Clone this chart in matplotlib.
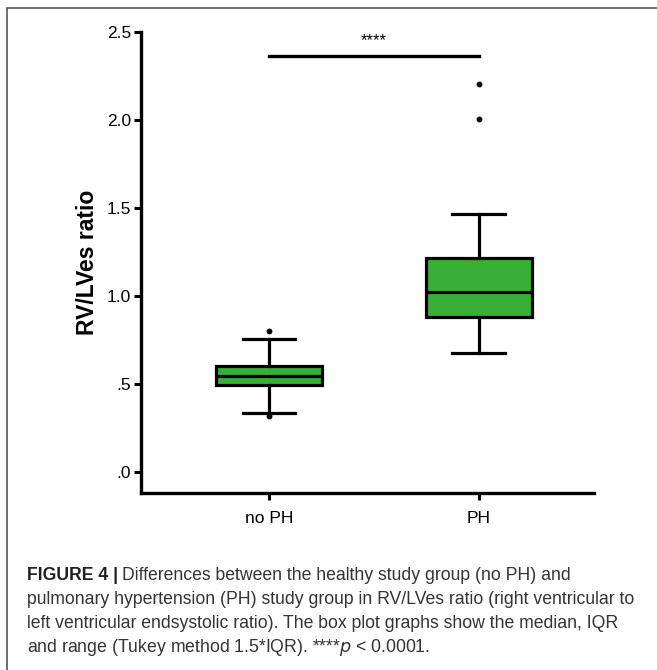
import matplotlib
matplotlib.use("Agg")
import matplotlib.pyplot as plt
from matplotlib.patches import Rectangle

plt.rcParams['font.family'] = ['Liberation Sans', 'DejaVu Sans']

groups = ['no PH', 'PH']
whislo = [0.337, 0.674]
q1 = [0.494, 0.879]
med = [0.545, 1.023]
q3 = [0.600, 1.216]
whishi = [0.754, 1.468]
fliers = [[0.803, 0.318], [2.004, 2.205]]
yticks = [0.0, 0.5, 1.0, 1.5, 2.0, 2.5]
ytick_labels = ['.0', '.5', '1.0', '1.5', '2.0', '2.5']
sig_y = 2.364
sig_text = '****'

green = '#38b036'

fig = plt.figure(figsize=(6.57, 6.70), dpi=100)
ax = fig.add_axes([141/657, 1 - 493/670, 453/657, 461/670])

stats = []
for i, g in enumerate(groups):
    stats.append(dict(label=g, whislo=whislo[i], q1=q1[i], med=med[i],
                      q3=q3[i], whishi=whishi[i], fliers=fliers[i]))

lw = 2.3
ax.bxp(stats, positions=[0, 1], widths=0.505, patch_artist=True,
       boxprops=dict(facecolor=green, edgecolor='black', linewidth=lw),
       medianprops=dict(color='black', linewidth=lw),
       whiskerprops=dict(color='black', linewidth=lw),
       capprops=dict(color='black', linewidth=lw),
       capwidths=0.25,
       flierprops=dict(marker='o', markersize=3.2, markerfacecolor='black',
                       markeredgecolor='black'))

ax.set_xlim(-0.61, 1.55)
ax.set_ylim(-0.12, 2.5)
ax.set_yticks(yticks)
ax.set_yticklabels(ytick_labels)
ax.set_xticks([0, 1])
ax.set_xticklabels(groups)
ax.tick_params(axis='both', labelsize=12.5, width=2.2, length=5, pad=2)
ax.tick_params(axis='x', pad=8)
for s in ['top', 'right']:
    ax.spines[s].set_visible(False)
for s in ['left', 'bottom']:
    ax.spines[s].set_linewidth(2.4)
ax.spines['left'].set_bounds(-0.12, 2.5)
ax.set_ylabel('RV/LVes ratio', fontsize=16.5, fontweight='bold', labelpad=6)

# significance bar
ax.plot([0, 1], [sig_y, sig_y], color='black', linewidth=2.4, clip_on=False)
ax.text(0.5, sig_y + 0.045, sig_text, ha='center', va='bottom', fontsize=12)

# frame around figure
fig.patches.append(Rectangle((7/657, -0.1), 1.2, 1 - 8/670 + 0.1,
                             transform=fig.transFigure, fill=False,
                             edgecolor='#555555', linewidth=1.2))

# caption
lines = [
    'Differences between the healthy study group (no PH) and',
    'pulmonary hypertension (PH) study group in RV/LVes ratio (right ventricular to',
    'left ventricular endsystolic ratio). The box plot graphs show the median, IQR',
    'and range (Tukey method 1.5*IQR). ****$p$ < 0.0001.',
]
fs = 12.7
x0 = 27 / 657
ys = [575, 600, 624, 648]
t = fig.text(x0, 1 - ys[0]/670, 'FIGURE 4 |', fontsize=fs, fontweight='bold',
             color='#222222', va='center')
fig.canvas.draw()
bb = t.get_window_extent()
fig.text(bb.x1 / 657 + 0.006, 1 - ys[0]/670, lines[0], fontsize=fs,
         color='#333333', va='center')
for y, line in zip(ys[1:], lines[1:]):
    fig.text(x0, 1 - y/670, line, fontsize=fs, color='#333333', va='center')

fig.savefig('out.png', dpi=100)
